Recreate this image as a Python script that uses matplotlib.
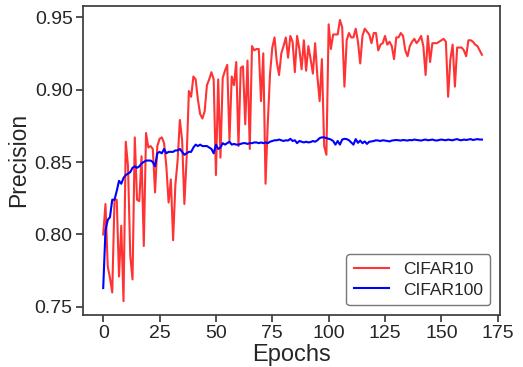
import matplotlib
matplotlib.use("Agg")
import matplotlib.pyplot as plt
import numpy as np

plt.rcParams['font.family'] = ['Liberation Sans', 'DejaVu Sans']

epochs = list(range(169))

cifar10 = [
    0.800, 0.821, 0.778, 0.770, 0.760, 0.824, 0.824, 0.771, 0.806, 0.754,
    0.864, 0.847, 0.785, 0.769, 0.867, 0.824, 0.823, 0.854, 0.792, 0.870,
    0.860, 0.861, 0.859, 0.829, 0.861, 0.866, 0.867, 0.863, 0.847, 0.822,
    0.838, 0.796, 0.834, 0.851, 0.879, 0.865, 0.821, 0.853, 0.899, 0.895,
    0.909, 0.907, 0.893, 0.883, 0.880, 0.885, 0.903, 0.907, 0.912, 0.907,
    0.841, 0.907, 0.853, 0.908, 0.913, 0.917, 0.865, 0.909, 0.903, 0.919,
    0.861, 0.915, 0.916, 0.876, 0.920, 0.859, 0.930, 0.927, 0.928, 0.928,
    0.892, 0.925, 0.835, 0.877, 0.911, 0.929, 0.936, 0.919, 0.910, 0.925,
    0.930, 0.936, 0.922, 0.937, 0.933, 0.912, 0.937, 0.928, 0.914, 0.934,
    0.913, 0.930, 0.921, 0.911, 0.932, 0.909, 0.892, 0.921, 0.861, 0.855,
    0.945, 0.928, 0.938, 0.938, 0.938, 0.948, 0.943, 0.902, 0.934, 0.939,
    0.936, 0.936, 0.942, 0.933, 0.918, 0.937, 0.942, 0.940, 0.938, 0.932,
    0.939, 0.939, 0.927, 0.931, 0.932, 0.937, 0.931, 0.933, 0.930, 0.921,
    0.936, 0.936, 0.939, 0.937, 0.927, 0.923, 0.930, 0.933, 0.935, 0.932,
    0.934, 0.937, 0.930, 0.910, 0.937, 0.919, 0.932, 0.932, 0.932, 0.933,
    0.934, 0.935, 0.933, 0.895, 0.921, 0.931, 0.902, 0.929, 0.929, 0.929,
    0.927, 0.923, 0.934, 0.934, 0.933, 0.931, 0.930, 0.927, 0.924,
]

cifar100 = [
    0.763, 0.803, 0.810, 0.812, 0.824, 0.824, 0.830, 0.837, 0.835, 0.839,
    0.841, 0.842, 0.843, 0.846, 0.847, 0.846, 0.847, 0.849, 0.850, 0.851,
    0.851, 0.851, 0.850, 0.847, 0.856, 0.857, 0.856, 0.859, 0.856, 0.857,
    0.857, 0.857, 0.858, 0.858, 0.859, 0.857, 0.855, 0.856, 0.857, 0.857,
    0.860, 0.862, 0.861, 0.862, 0.861, 0.861, 0.861, 0.860, 0.859, 0.856,
    0.862, 0.859, 0.860, 0.863, 0.862, 0.863, 0.864, 0.862, 0.8625, 0.862,
    0.862, 0.8625, 0.863, 0.863, 0.8625, 0.863, 0.863, 0.8635, 0.8635, 0.863,
    0.8635, 0.863, 0.8635, 0.863, 0.864, 0.8645, 0.865, 0.865, 0.8655, 0.865,
    0.8645, 0.865, 0.8648, 0.866, 0.8645, 0.865, 0.863, 0.8645, 0.864, 0.8635,
    0.864, 0.8635, 0.8638, 0.8645, 0.864, 0.865, 0.8665, 0.867, 0.867, 0.8665,
    0.866, 0.8655, 0.8645, 0.862, 0.8645, 0.862, 0.8655, 0.866, 0.8658, 0.865,
    0.8635, 0.862, 0.8658, 0.8632, 0.8648, 0.863, 0.8642, 0.8625, 0.864, 0.8642,
    0.8645, 0.865, 0.8648, 0.8645, 0.865, 0.8648, 0.8645, 0.8642, 0.8648, 0.865,
    0.8652, 0.865, 0.8648, 0.8652, 0.865, 0.8648, 0.8652, 0.865, 0.8655, 0.8652,
    0.865, 0.8648, 0.8652, 0.8655, 0.865, 0.8652, 0.8655, 0.865, 0.8648, 0.8652,
    0.8655, 0.8652, 0.865, 0.8655, 0.8652, 0.865, 0.8655, 0.8658, 0.8652, 0.865,
    0.8655, 0.8652, 0.8655, 0.8658, 0.8652, 0.8655, 0.8658, 0.8655, 0.8655,
]

series_names = ["CIFAR10", "CIFAR100"]
xticks = [0, 25, 50, 75, 100, 125, 150, 175]
yticks = [0.75, 0.80, 0.85, 0.90, 0.95]

text_color = '#262626'
spine_color = '#3c3c3c'

fig = plt.figure(figsize=(5.23, 3.67), dpi=100)
ax = fig.add_axes([0.159, 0.142, 0.797, 0.843])

ax.plot(epochs, cifar10, color='#ff3333', lw=1.5, label=series_names[0])
ax.plot(epochs, cifar100, color='#0000ff', lw=1.5, label=series_names[1])

ax.set_xlim(-8.9, 176)
ax.set_ylim(0.7445, 0.958)
ax.set_xticks(xticks)
ax.set_yticks(yticks)
ax.set_yticklabels([f"{v:.2f}" for v in yticks])

for s in ax.spines.values():
    s.set_color(spine_color)
    s.set_linewidth(1.25)

ax.tick_params(axis='both', direction='out', length=5, width=1.25,
               color=spine_color, labelcolor=text_color, labelsize=14, pad=2.5)

ax.set_xlabel("Epochs", fontsize=17, color=text_color, labelpad=1)
ax.set_ylabel("Precision", fontsize=16.5, color=text_color, labelpad=3)

leg = ax.legend(loc='lower right', fontsize=12.5, frameon=True, fancybox=True,
                edgecolor='#555555', handlelength=2.0, borderpad=0.45,
                labelspacing=0.3, borderaxespad=0.55)
leg.get_frame().set_linewidth(1.0)
for t in leg.get_texts():
    t.set_color(text_color)

fig.savefig("out.png", dpi=100)
